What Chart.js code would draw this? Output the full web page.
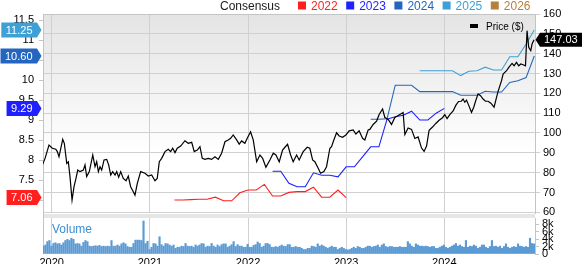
<!DOCTYPE html>
<html>
<head>
<meta charset="utf-8">
<title>Price and Consensus</title>
<script src="https://cdn.jsdelivr.net/npm/chart.js@4.4.1/dist/chart.umd.min.js"></script>
<style>
html, body { margin: 0; padding: 0; background: #fff; }
#wrap { position: relative; width: 582px; height: 264px; }
#wrap canvas { position: absolute; left: 0; top: 0; }
</style>
</head>
<body>
<div id="wrap">
<canvas id="priceChart" width="582" height="264"></canvas>
<canvas id="volumeChart" width="582" height="264"></canvas>
</div>
<script>
// price, weekly-ish closes (decimal year -> $)
var priceDates = [
  2019.898, 2019.932, 2019.972, 2020.006, 2020.041, 2020.057, 2020.074, 2020.112, 2020.128, 2020.153,
  2020.169, 2020.186, 2020.207, 2020.227, 2020.247, 2020.265, 2020.288, 2020.322, 2020.339, 2020.356,
  2020.383, 2020.418, 2020.441, 2020.458, 2020.475, 2020.492, 2020.509, 2020.533, 2020.560, 2020.580,
  2020.601, 2020.621, 2020.645, 2020.662, 2020.682, 2020.703, 2020.729, 2020.757, 2020.780, 2020.804,
  2020.831, 2020.848, 2020.872, 2020.906, 2020.950, 2020.984, 2021.018, 2021.052, 2021.075, 2021.096,
  2021.120, 2021.154, 2021.187, 2021.212, 2021.232, 2021.256, 2021.279, 2021.314, 2021.357, 2021.391,
  2021.426, 2021.452, 2021.483, 2021.510, 2021.534, 2021.561, 2021.595, 2021.629, 2021.663, 2021.697,
  2021.731, 2021.765, 2021.798, 2021.823, 2021.849, 2021.884, 2021.910, 2021.935, 2021.968, 2021.992,
  2022.026, 2022.053, 2022.088, 2022.121, 2022.149, 2022.182, 2022.223, 2022.257, 2022.284, 2022.318,
  2022.352, 2022.376, 2022.403, 2022.434, 2022.460, 2022.495, 2022.521, 2022.562, 2022.603, 2022.630,
  2022.658, 2022.681, 2022.715, 2022.739, 2022.773, 2022.800, 2022.834, 2022.851, 2022.868, 2022.902,
  2022.929, 2022.963, 2022.997, 2023.031, 2023.071, 2023.099, 2023.132, 2023.167, 2023.190, 2023.224,
  2023.241, 2023.275, 2023.310, 2023.336, 2023.371, 2023.394, 2023.428, 2023.462, 2023.496, 2023.530,
  2023.564, 2023.580, 2023.598, 2023.631, 2023.666, 2023.700, 2023.733, 2023.768, 2023.794, 2023.819,
  2023.845, 2023.880, 2023.913, 2023.947, 2023.982, 2024.005, 2024.028, 2024.056, 2024.090, 2024.117,
  2024.145, 2024.172, 2024.191, 2024.209, 2024.226, 2024.250, 2024.277, 2024.300, 2024.318, 2024.344,
  2024.369, 2024.395, 2024.420, 2024.446, 2024.474, 2024.507, 2024.532, 2024.548, 2024.583, 2024.599,
  2024.634, 2024.657, 2024.690, 2024.711, 2024.735, 2024.758, 2024.779, 2024.802, 2024.827, 2024.843,
  2024.860, 2024.881, 2024.894, 2024.914
];
var priceValues = [
  83.0, 87.2, 93.9, 92.3, 91.8, 90.6, 88.0, 96.8, 94.8, 84.7,
  85.5, 78.0, 66.2, 72.9, 77.1, 81.3, 80.5, 81.3, 83.9, 78.0,
  80.5, 88.9, 83.0, 85.5, 80.5, 83.0, 81.3, 86.4, 86.7, 83.9,
  78.8, 80.5, 78.8, 80.5, 77.7, 80.5, 77.1, 75.9, 78.3, 72.9,
  70.4, 68.7, 74.6, 80.5, 79.7, 78.3, 78.8, 75.9, 77.1, 85.5,
  87.2, 90.6, 91.8, 90.6, 92.3, 90.1, 92.3, 93.4, 96.1, 94.8,
  95.3, 90.6, 91.4, 93.1, 87.2, 86.7, 87.2, 86.7, 88.0, 86.7,
  89.8, 95.6, 96.5, 97.3, 99.0, 96.5, 94.4, 96.0, 94.8, 97.3,
  100.6, 96.5, 85.5, 88.9, 87.2, 82.7, 86.4, 89.8, 88.9, 85.5,
  91.4, 92.8, 94.3, 88.9, 85.5, 88.9, 86.4, 90.6, 92.8, 92.3,
  86.4, 85.5, 82.2, 79.7, 80.5, 83.0, 92.3, 93.1, 95.6, 100.1,
  98.5, 97.8, 99.0, 101.1, 101.5, 99.5, 101.1, 97.3, 96.5, 101.5,
  101.8, 104.3, 106.0, 109.3, 112.1, 107.8, 106.8, 104.3, 107.8, 108.8,
  109.8, 110.3, 99.2, 102.5, 101.8, 97.2, 98.0, 92.4, 90.7, 93.4,
  101.3, 103.0, 104.8, 106.4, 107.7, 109.3, 107.3, 109.3, 111.1, 113.9,
  115.9, 116.0, 117.1, 115.5, 116.6, 113.8, 110.4, 113.0, 116.0, 119.7,
  118.8, 117.1, 116.0, 116.0, 115.0, 113.0, 118.0, 121.0, 126.4, 129.7,
  131.4, 133.1, 135.1, 133.9, 135.6, 133.9, 134.8, 134.4, 133.9, 151.6,
  143.2, 141.5, 144.9, 147.03
];

// monthly consensus EPS estimates per fiscal year, first month given as [year, month]
var cons2022Start = [2021, 4];
var cons2022 = [7.0, 7.0, 7.01, 7.02, 7.02, 7.07, 6.98, 6.98, 7.18, 7.25, 7.25, 7.39,
  7.1, 7.1, 7.19, 7.21, 7.21, 7.32, 7.07, 7.07, 7.25, 7.06];
var cons2023Start = [2022, 4];
var cons2023 = [7.72, 7.72, 7.42, 7.33, 7.33, 7.68, 7.62, 7.62, 7.58, 7.83, 7.83, 8.08,
  8.33, 8.33, 9.02, 9.08, 9.12, 9.22, 9.0, 9.0, 9.17, 9.29];
var cons2024Start = [2023, 4];
var cons2024 = [9.02, 9.02, 9.03, 9.87, 9.87, 9.87, 9.71, 9.71, 9.71, 9.71, 9.71, 9.62,
  9.62, 9.62, 9.72, 9.70, 9.70, 9.94, 9.98, 10.06, 10.60];
var cons2025Start = [2023, 10];
var cons2025 = [10.23, 10.23, 10.23, 10.23, 10.23, 10.11, 10.22, 10.23, 10.32, 10.25, 10.25,
  10.58, 10.58, 10.90, 11.25];

// weekly volume, thousands
var volumeK = [
  2.1, 2.4, 3.3, 3.6, 2.1, 2.8, 3.0, 2.7, 2.8, 2.4, 3.0, 3.6, 3.9, 3.6, 4.2, 3.9, 2.7, 2.8, 2.7, 2.1,
  3.1, 3.6, 3.3, 2.1, 2.0, 2.1, 2.2, 2.1, 2.3, 2.0, 2.1, 2.0, 2.1, 2.0, 3.6, 2.1, 2.1, 2.4, 2.1, 2.7,
  3.0, 2.7, 2.0, 1.8, 1.8, 2.8, 3.7, 3.7, 3.7, 3.6, 8.8, 2.8, 3.4, 1.2, 1.8, 2.8, 2.7, 2.1, 4.6, 2.5,
  2.1, 2.8, 2.7, 2.4, 2.1, 2.4, 1.5, 1.8, 1.8, 2.1, 2.0, 2.8, 2.1, 2.0, 2.1, 1.8, 2.4, 2.1, 2.4, 2.8,
  2.7, 1.8, 2.1, 2.0, 2.8, 2.1, 1.8, 2.4, 2.0, 2.5, 2.7, 2.7, 1.8, 2.1, 2.5, 3.3, 2.0, 2.5, 2.1, 2.1,
  1.8, 1.8, 2.6, 1.8, 1.8, 2.3, 2.5, 3.2, 2.8, 1.8, 2.1, 2.8, 2.8, 2.5, 1.8, 1.8, 2.0, 1.8, 2.1, 2.4,
  2.1, 2.0, 2.5, 2.5,
  1.8, 1.8, 2.0, 1.8, 1.8, 1.5, 1.2, 1.2, 1.5, 1.5, 2.1, 2.0, 1.8, 2.7, 2.1, 2.4, 2.1, 1.8, 1.5, 1.8,
  2.1, 1.8, 1.8, 1.2, 1.5, 1.8, 1.5, 1.2, 1.1, 1.2, 1.5, 1.8, 1.5, 2.0, 1.8, 1.5, 1.5, 1.8, 2.1, 2.1,
  1.8, 2.0, 2.1, 2.4, 1.8, 2.4, 2.7, 2.0, 1.8, 2.0, 2.0, 1.8, 1.8, 1.8, 2.0, 1.8, 1.8, 1.8, 3.3, 2.7,
  2.1, 1.8, 2.7, 2.4, 2.1, 2.1, 2.0, 2.1, 2.0, 1.8, 2.0, 2.0, 1.5, 1.5, 1.8, 2.1, 2.4, 1.8, 1.5, 1.8,
  2.1, 2.4, 2.8, 2.1, 2.4, 2.0, 1.8, 3.6, 1.8, 2.1, 2.0, 2.4, 2.1, 1.5, 1.8, 2.4, 2.4, 1.8, 1.5, 2.0,
  3.6, 2.0, 2.1, 1.8, 2.1, 1.5, 2.0, 2.7, 1.8, 1.5, 1.8, 2.0, 1.8, 2.7, 2.1, 2.0, 1.8, 2.0, 1.8, 4.2,
  2.8, 2.7
];

var xYears = [2020, 2021, 2022, 2023, 2024];
var rightTicks = [60, 70, 80, 90, 100, 110, 120, 130, 140, 150, 160];
var leftTicks = [7, 7.5, 8, 8.5, 9, 9.5, 10, 10.5, 11, 11.5];
var volumeTicks = [0, 2, 4, 6, 8];

var colors = { '2022': '#ff1f1f', '2023': '#1f1fff', '2024': '#2466bf', '2025': '#3fa0d6', '2026': '#b5803c' };
var FONT = '"Liberation Sans", Arial, sans-serif';
var X_MIN = 2019.911, X_MAX = 2024.924;
var GRID = '#d0d0d0';
var EDGE = '#c4c4c4';

Chart.defaults.font.family = FONT;
Chart.defaults.font.size = 11;
Chart.defaults.color = '#000';

function monthSeries(start, values) {
    return values.map(function (v, i) {
        return { x: start[0] + (start[1] - 1 + i) / 12, y: v };
    });
}

function setTicks(list) {
    return function (scale) {
        scale.ticks = list.map(function (v) { return { value: v }; });
    };
}

function drawFlag(ctx, text, cy, color, left) {
    ctx.save();
    ctx.font = '11px ' + FONT;
    var w = ctx.measureText(text).width;
    ctx.fillStyle = color;
    ctx.beginPath();
    if (left) {
        var x0 = 37 - w - 9;
        ctx.moveTo(x0, cy - 7.5);
        ctx.lineTo(37, cy - 7.5);
        ctx.lineTo(41.5, cy);
        ctx.lineTo(37, cy + 7.5);
        ctx.lineTo(x0, cy + 7.5);
    } else {
        ctx.moveTo(535.5, cy);
        ctx.lineTo(540, cy - 7);
        ctx.lineTo(582, cy - 7);
        ctx.lineTo(582, cy + 7);
        ctx.lineTo(540, cy + 7);
    }
    ctx.closePath();
    ctx.fill();
    ctx.fillStyle = '#fff';
    ctx.textBaseline = 'middle';
    if (left) {
        ctx.textAlign = 'center';
        ctx.fillText(text, 37 - w / 2 - 4.5, cy + 0.5);
    } else {
        ctx.textAlign = 'left';
        ctx.fillText(text, 544, cy + 0.5);
    }
    ctx.restore();
}

var panelDecor = {
    id: 'panelDecor',
    beforeDraw: function (chart) {
        var a = chart.chartArea, ctx = chart.ctx;
        var g = ctx.createLinearGradient(0, a.top, 0, a.top + 140);
        g.addColorStop(0, '#e4e4e4');
        g.addColorStop(1, '#ffffff');
        ctx.save();
        ctx.fillStyle = g;
        ctx.fillRect(a.left, a.top, a.right - a.left, a.bottom - a.top);
        ctx.restore();
    },
    afterDraw: function (chart) {
        var a = chart.chartArea, ctx = chart.ctx;
        ctx.save();
        ctx.strokeStyle = EDGE;
        ctx.lineWidth = 1;
        ctx.beginPath();
        ctx.moveTo(a.left, a.top + 0.5);
        ctx.lineTo(a.right, a.top + 0.5);
        ctx.stroke();

        // top legend
        ctx.font = '12px ' + FONT;
        ctx.textBaseline = 'alphabetic';
        ctx.fillStyle = '#1a1a1a';
        ctx.fillText('Consensus', 220, 10);
        var x = 298;
        ['2022', '2023', '2024', '2025', '2026'].forEach(function (k) {
            ctx.fillStyle = colors[k];
            ctx.fillRect(x, 1.5, 8, 8);
            ctx.fillText(k, x + 13, 10);
            x += 13 + ctx.measureText(k).width + 8.5;
        });

        // price legend
        ctx.fillStyle = '#000';
        ctx.fillRect(470, 24, 8, 4);
        ctx.font = '10px ' + FONT;
        ctx.fillText('Price ($)', 486, 30);

        var yL = chart.scales.yL, yR = chart.scales.yR;
        drawFlag(ctx, cons2025[cons2025.length - 1].toFixed(2), yL.getPixelForValue(cons2025[cons2025.length - 1]), colors['2025'], true);
        drawFlag(ctx, cons2024[cons2024.length - 1].toFixed(2), yL.getPixelForValue(cons2024[cons2024.length - 1]), colors['2024'], true);
        drawFlag(ctx, cons2023[cons2023.length - 1].toFixed(2), yL.getPixelForValue(cons2023[cons2023.length - 1]), colors['2023'], true);
        drawFlag(ctx, cons2022[cons2022.length - 1].toFixed(2), yL.getPixelForValue(cons2022[cons2022.length - 1]), colors['2022'], true);
        var last = priceValues[priceValues.length - 1];
        drawFlag(ctx, last.toFixed(2), yR.getPixelForValue(last), '#000', false);
        ctx.restore();
    }
};

function lineSet(label, data, axis, color, width) {
    return { label: label, data: data, yAxisID: axis, borderColor: color, borderWidth: width,
        pointRadius: 0, tension: 0, fill: false };
}

new Chart(document.getElementById('priceChart'), {
    type: 'line',
    data: {
        datasets: [
            lineSet('Price ($)', priceDates.map(function (d, i) { return { x: d, y: priceValues[i] }; }), 'yR', '#000', 1.2),
            lineSet('2022', monthSeries(cons2022Start, cons2022), 'yL', colors['2022'], 1.1),
            lineSet('2023', monthSeries(cons2023Start, cons2023), 'yL', colors['2023'], 1.1),
            lineSet('2024', monthSeries(cons2024Start, cons2024), 'yL', colors['2024'], 1.1),
            lineSet('2025', monthSeries(cons2025Start, cons2025), 'yL', colors['2025'], 1.1)
        ]
    },
    options: {
        responsive: false,
        animation: false,
        events: [],
        layout: { padding: { top: 14, bottom: 51, left: 0, right: 0 } },
        plugins: { legend: { display: false }, tooltip: { enabled: false } },
        scales: {
            x: {
                type: 'linear', min: X_MIN, max: X_MAX,
                grid: { color: GRID, drawTicks: false },
                border: { display: false },
                ticks: { display: false },
                afterBuildTicks: setTicks(xYears),
                afterFit: function (s) { s.height = 0; }
            },
            yL: {
                position: 'left', min: 6.675, max: 11.65,
                grid: { drawOnChartArea: false, tickLength: 4, color: EDGE },
                border: { color: EDGE },
                ticks: { padding: 5, autoSkip: false, callback: function (v) { return String(v); } },
                afterBuildTicks: setTicks(leftTicks),
                afterFit: function (s) { s.width = 43; }
            },
            yR: {
                position: 'right', min: 59.65, max: 160,
                grid: { color: GRID, tickLength: 5 },
                border: { color: EDGE },
                ticks: { padding: 3, autoSkip: false, callback: function (v) { return String(v); } },
                afterBuildTicks: setTicks(rightTicks),
                afterFit: function (s) { s.width = 47; }
            }
        }
    },
    plugins: [panelDecor]
});

var volStep = (2024.914 - 2019.915) / (volumeK.length - 1);

var volumeDecor = {
    id: 'volumeDecor',
    beforeDraw: function (chart) {
        var a = chart.chartArea, ctx = chart.ctx;
        ctx.save();
        ctx.fillStyle = '#e6e6e6';
        ctx.fillRect(a.left, 214, a.right - a.left, 4);
        ctx.strokeStyle = EDGE;
        ctx.beginPath();
        ctx.moveTo(a.left + 0.5, 213);
        ctx.lineTo(a.left + 0.5, a.bottom);
        ctx.stroke();
        ctx.font = '12px ' + FONT;
        ctx.fillStyle = '#3b8ed0';
        ctx.textBaseline = 'alphabetic';
        ctx.fillText('Volume', 52, 233);
        ctx.restore();
    }
};

new Chart(document.getElementById('volumeChart'), {
    type: 'bar',
    data: {
        datasets: [{
            data: volumeK.map(function (v, i) { return { x: 2019.915 + i * volStep, y: v }; }),
            backgroundColor: '#5b9bd5',
            barThickness: 1.5
        }]
    },
    options: {
        responsive: false,
        animation: false,
        events: [],
        layout: { padding: { top: 218, left: 43, right: 0, bottom: 0 } },
        plugins: { legend: { display: false }, tooltip: { enabled: false } },
        scales: {
            x: {
                type: 'linear', min: X_MIN, max: X_MAX, offset: false,
                grid: { color: GRID, drawTicks: false, offset: false },
                border: { display: false },
                ticks: { padding: 2, maxRotation: 0, autoSkip: false, callback: function (v) { return String(v); } },
                afterBuildTicks: setTicks(xYears),
                afterFit: function (s) { s.height = 10; }
            },
            y: {
                position: 'right', min: 0, max: 9.6,
                grid: { drawOnChartArea: false, tickLength: 4, color: EDGE },
                border: { color: EDGE },
                ticks: { padding: 3, autoSkip: false, callback: function (v) { return v === 0 ? '0' : v + 'k'; } },
                afterBuildTicks: setTicks(volumeTicks),
                afterFit: function (s) { s.width = 47; }
            }
        }
    },
    plugins: [volumeDecor]
});
</script>
</body>
</html>
